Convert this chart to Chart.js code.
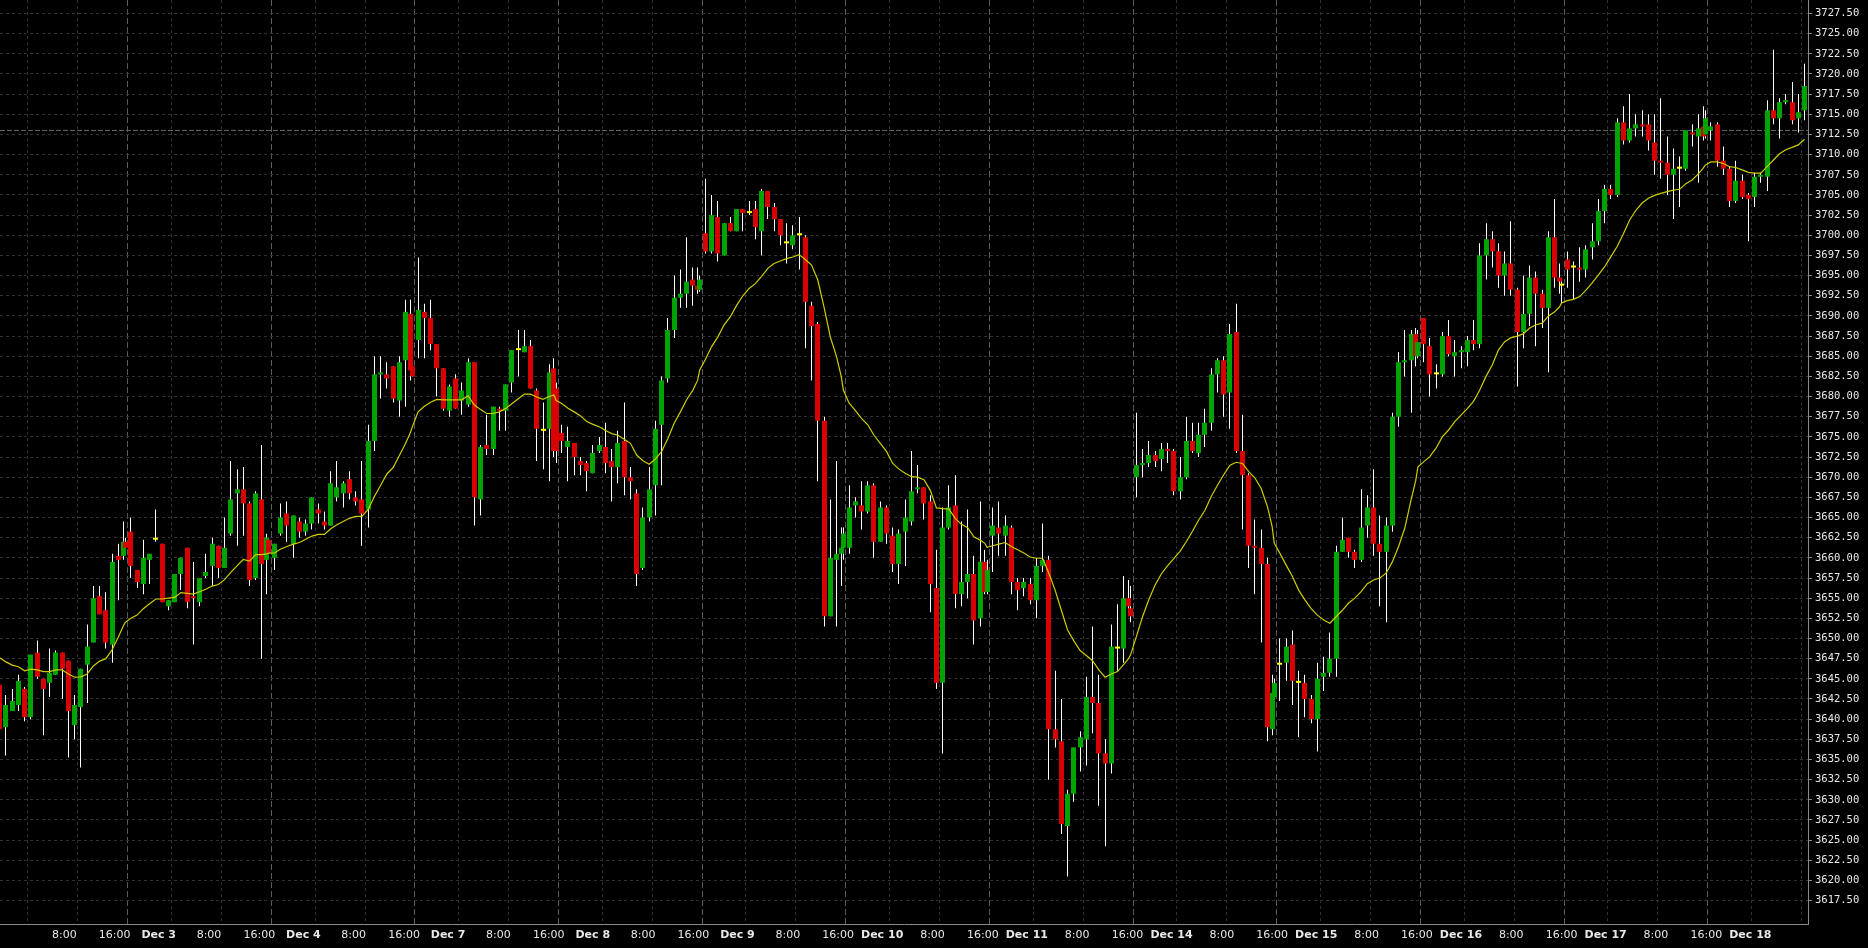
<!DOCTYPE html>
<html><head><meta charset="utf-8">
<script src="https://cdn.jsdelivr.net/npm/chart.js@4.4.1/dist/chart.umd.min.js"></script>
<style>html,body{margin:0;padding:0;background:#000;overflow:hidden}canvas{display:block}</style>
</head><body>
<canvas id="c" width="1868" height="948"></canvas>
<script>
// session-hour position of each bar (0 = midnight Dec 2, 23 hours per session)
const barTime = [
-4.5,-3.5,-2.5,-1.5,-0.5,0.5,1.5,2.5,3.5,4.5,5.5,6.5,7.5,8.5,9.5,10.5,11.5,12.5,13.5,14.5,15.25,15.6,
16.5,17.5,18.5,19.5,20.5,21.5,22.5,23.5,24.5,25.5,26.5,27.5,28.5,29.5,30.5,31.5,32.5,33.5,34.5,35.5,36.5,37.5,38.25,38.6,
39.5,40.5,41.5,42.5,43.5,44.5,45.5,46.5,47.5,48.5,49.5,50.5,51.5,52.5,53.5,54.5,55.5,56.5,57.5,58.5,59.5,60.5,61.25,61.6,
62.5,63.5,64.5,65.5,66.5,67.5,68.5,69.5,70.5,71.5,72.5,73.5,74.5,75.5,76.5,77.5,78.5,79.5,80.5,81.5,82.5,83.5,84.25,84.6,
85.5,86.5,87.5,88.5,89.5,90.5,91.5,92.5,93.5,94.5,95.5,96.5,97.5,98.5,99.5,100.5,101.5,102.5,103.5,104.5,105.5,106.5,107.25,107.6,
108.5,109.5,110.5,111.5,112.5,113.5,114.5,115.5,116.5,117.5,118.5,119.5,120.5,121.5,122.5,123.5,124.5,125.5,126.5,127.5,128.5,129.5,130.25,130.6,
131.5,132.5,133.5,134.5,135.5,136.5,137.5,138.5,139.5,140.5,141.5,142.5,143.5,144.5,145.5,146.5,147.5,148.5,149.5,150.5,151.5,152.5,153.25,153.6,
154.5,155.5,156.5,157.5,158.5,159.5,160.5,161.5,162.5,163.5,164.5,165.5,166.5,167.5,168.5,169.5,170.5,171.5,172.5,173.5,174.5,175.5,176.25,176.6,
177.5,178.5,179.5,180.5,181.5,182.5,183.5,184.5,185.5,186.5,187.5,188.5,189.5,190.5,191.5,192.5,193.5,194.5,195.5,196.5,197.5,198.5,199.25,199.6,
200.5,201.5,202.5,203.5,204.5,205.5,206.5,207.5,208.5,209.5,210.5,211.5,212.5,213.5,214.5,215.5,216.5,217.5,218.5,219.5,220.5,221.5,222.25,222.6,
223.5,224.5,225.5,226.5,227.5,228.5,229.5,230.5,231.5,232.5,233.5,234.5,235.5,236.5,237.5,238.5,239.5,240.5,241.5,242.5,243.5,244.5,245.25,245.6,
246.5,247.5,248.5,249.5,250.5,251.5,252.5,253.5,254.5,255.5,256.5,257.5,258.5,259.5,260.5,261.5,262.5,263.5,264.5,265.5,266.5,267.5,268.25,268.6,
269.5,270.5,271.5,272.5,273.5,274.5,275.5,276.5,277.5,278.5,279.5,280.5,281.5,282.5,283.5,284.5
];
const openPrice = [
3644.25,3639,3641,3641.75,3643.75,3640.25,3648.25,3645,3644.5,3645.5,3648.25,3647.25,3639.25,3641.5,3646.75,3649.5,3655.25,3653.5,3649.25,3660.25,3660.25,3662,
3663.25,3658.5,3656.75,3659.75,3662.25,3661.75,3654,3654.5,3658,3661.25,3655.25,3654.5,3657.75,3659,3661.5,3658.75,3663,3668,3668.5,3666.75,3657.5,3667.25,3659.75,3662.25,
3660,3663,3665.5,3661.75,3664.5,3663.25,3664.25,3666,3664.5,3664,3667.5,3668,3669.75,3667.5,3667.25,3666,3674.5,3682.75,3682.75,3683.75,3679.5,3684.5,3690.25,3683.75,
3687,3690.5,3689.75,3686.5,3683.5,3678.25,3682.25,3679.5,3679,3684.25,3667.25,3674,3673.5,3678.5,3678.25,3681.75,3685.75,3685.5,3686.25,3680.75,3675.75,3676,3683.5,3681,
3675.5,3673.75,3674.25,3672,3671.75,3670.5,3673.25,3673.75,3672,3671.25,3674.5,3670,3668,3658.75,3665,3669,3676.5,3682.25,3688.25,3692.25,3692.75,3694.5,3693.75,3693.25,
3700.25,3698,3702.25,3697.5,3701.5,3700.5,3703.25,3702.75,3703.25,3700.5,3705.5,3703.5,3702,3699,3698.75,3700,3699.75,3691.25,3689,3677,3652.75,3659.75,3660.5,3661.25,
3661.25,3666.5,3666.5,3665.75,3669,3662,3666.25,3662.75,3659.25,3663.25,3664.5,3668.5,3668.75,3667,3656.25,3644.5,3663.75,3666.5,3655.5,3657,3658,3652.5,3659.5,3655.75,
3662.75,3663.75,3662.75,3663.75,3657,3656.25,3656.75,3654.75,3659,3659.75,3638.75,3637.25,3626.75,3630.75,3636.5,3637.5,3642.75,3642,3635.75,3634.5,3648.75,3648.75,3655,3653.75,
3670,3671.5,3671.75,3672.75,3672.25,3673.5,3673.25,3668.25,3670,3674.5,3673,3675.25,3676.75,3682.75,3684.5,3680.5,3688,3673.25,3670.25,3661.5,3661.25,3659.25,3638.75,3642.75,
3646.75,3647,3649.25,3644.5,3644.5,3642.5,3640,3645.25,3645.75,3647.5,3660.75,3662.5,3660.75,3659.75,3664,3666.25,3661.75,3660.75,3664,3677.5,3684.25,3684.5,3687.75,3685,
3689.75,3686.25,3682.75,3682.75,3687.5,3685,3685.5,3685.5,3687,3686.5,3697.5,3699.5,3698,3695,3696.5,3693.25,3688,3690.25,3694.75,3692.75,3691,3699.75,3694.75,3693.75,
3697,3696,3696,3695.75,3698.5,3699.25,3703,3705.75,3705,3714,3711.75,3713.25,3713.75,3713.75,3711.5,3709.25,3709,3707.5,3708.25,3708.25,3712.75,3712.25,3713.5,3712.5,
3713,3713.75,3709.25,3708.25,3704.25,3706.75,3705,3704.75,3707.25,3707.25,3715.5,3714.5,3716.5,3716.5,3714.5,3715.5
];
const highPrice = [
3645,3643,3643.75,3645.5,3644,3648,3649.75,3645,3648.75,3648.5,3648.25,3647.25,3643,3646.25,3651.75,3656.5,3656.5,3655.75,3660.5,3661.75,3664.5,3662.5,
3665,3658.5,3662.25,3660.5,3666,3661.75,3654.75,3658,3660,3661.25,3659.5,3657.5,3660.5,3662.5,3661.5,3665,3672,3671,3671.25,3667,3668.25,3674,3663,3662.5,
3661.75,3666.75,3667,3665.25,3665,3664.75,3667.5,3666.75,3665.75,3670.75,3672,3669.5,3670.75,3668.25,3672,3676.5,3685,3685,3684.25,3683.75,3685,3692,3692,3684,
3697.25,3691.5,3692,3686.5,3683.5,3681.5,3682.75,3681.75,3684.75,3684.25,3674,3677.75,3678.75,3678.75,3681.5,3685.75,3688.25,3688.25,3687,3681,3679.25,3684,3684.75,3681.75,
3676.5,3676.25,3674.25,3672.5,3672,3674,3675,3676.75,3673.5,3675.75,3679.25,3671.25,3668.5,3666.25,3671.25,3677,3682.5,3689.75,3695,3695.75,3699.75,3696,3696,3695,
3707,3705,3704.25,3701.5,3702.25,3703.25,3703.25,3704.25,3704.25,3705.75,3705.5,3704,3702,3701.5,3701.25,3702.25,3700,3691.75,3689.25,3677.5,3667.25,3672,3663.75,3663.75,
3669,3667.5,3669.5,3669.5,3669.25,3667,3666.5,3663.75,3663.5,3667.25,3673.25,3671.5,3668.75,3667.75,3661,3666.25,3669,3670.25,3664.5,3666,3660.25,3667,3661,3659.75,
3666.25,3667,3665.25,3664,3657.5,3657.5,3657.5,3660,3664.25,3660.25,3646,3642.5,3631.25,3636.5,3638.5,3645.25,3651.5,3645.5,3637.5,3651.75,3654.25,3657.75,3657.25,3656.5,
3678,3673.5,3674.5,3673.25,3674.25,3674.25,3673.5,3672.5,3677.5,3676.75,3676.75,3678.5,3683.5,3684.75,3685,3689,3691.5,3677.75,3670.5,3664.75,3663.5,3660,3645.5,3645,
3650,3650,3651,3646,3645.5,3643,3647,3647.75,3650.75,3661.5,3665,3662.5,3661,3668.5,3667.75,3671,3665.25,3665,3678,3685.5,3688.25,3688.25,3688.5,3688.25,
3689.75,3687.25,3684,3688,3689.5,3687,3686.25,3687.5,3689.5,3699,3701.5,3700.5,3699,3698,3701.75,3693.5,3695,3696.25,3695.5,3693.25,3700.5,3704.5,3696.5,3694.5,
3698,3696.75,3698.5,3698.75,3701.5,3704.5,3706.25,3706.25,3714.5,3716,3717.5,3715,3715.5,3715,3715,3717,3712.25,3710.75,3709.75,3713,3713.75,3715,3716,3715.5,
3714,3714,3711,3708.5,3709.25,3707.5,3705.25,3707.75,3707.75,3716.75,3723,3717,3717.5,3719,3717.5,3721.25
];
const lowPrice = [
3636,3635.5,3641,3641,3639.75,3640,3645,3638,3642.75,3645.5,3642.5,3635.25,3637.5,3634,3642,3649.5,3653,3648.75,3647,3654.75,3659.75,3661,
3657.5,3656.25,3655.5,3656.75,3662,3654.5,3653.5,3654.5,3656,3653.75,3649.25,3654,3657.5,3656.5,3657.5,3658.75,3662.75,3661.5,3662.75,3656.5,3657.25,3647.5,3655.5,3660,
3658.5,3662.75,3662,3660,3662.5,3662.75,3663.5,3664.25,3663.5,3664,3667,3666.25,3667.25,3666.5,3661.5,3663.75,3673.25,3679.75,3681,3679.25,3677.5,3678.75,3682,3682.5,
3684.75,3684.75,3685.75,3680,3678.25,3677.5,3678.5,3677.75,3678.75,3664,3665.25,3672.75,3672.75,3675.75,3675.75,3680.5,3682.5,3685.5,3681,3672,3671,3669.5,3672.5,3671.75,
3673,3669.5,3670.25,3670.25,3668.25,3670.5,3673,3670.5,3667,3669.25,3667.75,3667.25,3656.5,3658.5,3664.5,3665.25,3669,3681.75,3687.25,3691,3691,3691.25,3692.75,3693,
3697.75,3697.75,3696.75,3697.5,3700.5,3700.5,3700.5,3702.5,3699.5,3697.5,3702,3700.5,3698.75,3696.5,3698.25,3695.75,3686,3682,3669.5,3651.5,3652.75,3651.5,3656.5,3659.75,
3660.5,3665,3663.5,3665.5,3660,3662,3661.75,3658.25,3656.75,3659,3664,3668,3664.75,3653.25,3643.75,3635.75,3663.5,3653.75,3654,3655,3649.25,3651.5,3655.5,3655.5,
3658.25,3660.25,3660.25,3655.5,3653.5,3655.25,3654.25,3652.5,3658.25,3632.5,3636.5,3625.75,3620.5,3629.75,3633.5,3634.25,3638.25,3629.25,3624.25,3633.25,3646,3647,3653.5,3652,
3667.5,3670,3671.25,3671.25,3670.75,3671.75,3667.75,3667.25,3669.75,3673,3672.5,3673.75,3675.75,3680.5,3677.5,3676,3673,3663.5,3658.75,3655.5,3649.5,3637.25,3638,3641.5,
3642.25,3644.75,3641.75,3637.75,3640.25,3639.5,3636,3643.5,3645.25,3645.25,3660.75,3660,3658.75,3659.5,3662.5,3660.25,3654,3652,3663.25,3676.25,3682.5,3678,3683.75,3684.75,
3684.25,3680,3681,3682.5,3685,3682.5,3683.5,3683.75,3685.75,3686,3694.5,3696,3693.5,3692.5,3692.5,3681.25,3686,3688.75,3686.25,3688.5,3683,3693.5,3692.75,3691.5,
3693.5,3692,3694.25,3694.75,3697,3698.75,3701.5,3704.5,3704.75,3711.25,3711.5,3712.25,3712.25,3710.5,3707.5,3707,3705,3702,3703.5,3708,3711,3706.5,3711.75,3712,
3711.75,3708.5,3707.5,3703.5,3704,3704.5,3699.25,3703.5,3706.5,3705.5,3713.75,3712,3716.25,3713.75,3712.75,3714.25
];
const closePrice = [
3638.75,3641.75,3642.25,3644.75,3640.25,3648,3645.25,3643.75,3645.75,3648.25,3646.25,3641,3641.75,3646.25,3649,3655,3653,3649.5,3659.5,3659.75,3662,3661.25,
3659,3657,3660,3660.5,3662.25,3654.5,3654.75,3658,3660,3654.5,3655,3657.5,3658.25,3661.75,3658.75,3661.25,3667.25,3668.5,3666.75,3657.25,3668,3659.25,3662.5,3660.5,
3661.75,3665,3664,3665.25,3663.25,3664.25,3667.5,3665.5,3664,3669.25,3668.75,3669.25,3668,3667,3665.5,3674.5,3682.75,3683,3682.25,3679.75,3684.25,3690.5,3683.25,3682.5,
3690.75,3689.75,3686.5,3683.5,3678.5,3681.25,3678.5,3680.75,3684.25,3667.5,3673.75,3673.5,3678.75,3678.25,3681.5,3685.75,3685.75,3686.25,3681,3676,3675.75,3683,3673.25,3673.25,
3674.5,3674.5,3672.5,3671.5,3670.75,3673,3674,3671.75,3671.25,3674.25,3670,3669.5,3658,3665,3668.5,3676,3682,3688.25,3692.25,3692.75,3694.25,3693.75,3693.25,3694.5,
3698,3702.5,3697.75,3701.5,3700.5,3703.25,3702.75,3702.75,3701,3705.5,3703.5,3702,3700,3699,3700,3700,3691.75,3688.75,3677,3652.75,3660,3660.5,3661.25,3663,
3666.25,3667,3665.75,3669,3662,3666.25,3663,3659.25,3663,3665,3668.25,3668.75,3666.75,3656.75,3644.5,3663.75,3666.25,3655.5,3657,3658,3652.25,3659.5,3655.75,3658.5,
3664,3663,3664,3657,3656,3657,3654.75,3659,3659.75,3638.75,3637.5,3627,3630.75,3636.5,3637.75,3642.75,3642,3635.75,3634.5,3649,3648.75,3655,3654,3652.75,
3671.5,3671.75,3672.75,3672,3673.5,3673.25,3668.25,3670,3674.5,3673.25,3675.25,3676.75,3682.75,3684.5,3680.25,3687.75,3673.25,3670.25,3661.5,3661.25,3659.25,3639,3643.25,3644.5,
3646.75,3649,3644.75,3644.5,3642.5,3640,3645,3645.75,3647.5,3660.75,3662.25,3660.75,3659.75,3663.75,3666.25,3661.75,3660.75,3664,3677.5,3684.25,3684.5,3687.75,3685,3686.75,
3686.5,3682.75,3682.75,3687.5,3685.25,3685.5,3685.75,3687,3686.5,3697.5,3699.5,3698,3695,3696.5,3693.25,3688,3690.25,3694.75,3692.75,3691,3699.75,3694.75,3694.25,3693.75,
3695.75,3696,3695.75,3698.25,3699.25,3703,3705.75,3705,3714,3711.75,3713.25,3713.75,3713.5,3711.75,3709.25,3709,3707.5,3708.25,3708.25,3713,3712.5,3713.25,3712.25,3714.5,
3713.5,3709.25,3708.25,3704.25,3706.75,3704.75,3704.5,3707.25,3707.5,3715.5,3714.5,3716.5,3716.75,3714.25,3715.25,3718.5
];
const maPrice = [
3647.6,3647.1,3646.7,3646.5,3646.0,3646.2,3646.1,3645.9,3645.9,3646.1,3646.1,3645.6,3645.2,3645.25,3645.6,3646.6,3647.2,3647.5,3648.6,3650.2,3651.5,3652.0,
3652.5,3652.9,3653.7,3654.3,3654.9,3654.9,3655.0,3655.1,3655.7,3655.6,3655.5,3655.8,3656.1,3656.5,3656.7,3657.3,3658.2,3659.0,3659.8,3659.6,3660.4,3660.4,3660.5,3660.6,
3660.6,3661.1,3661.4,3661.7,3661.9,3662.3,3662.7,3662.9,3662.9,3663.6,3664.1,3664.5,3664.9,3665.15,3665.15,3666.0,3667.6,3669.0,3670.4,3671.2,3672.7,3674.2,3675.5,3676.3,
3678.1,3678.8,3679.3,3679.65,3679.6,3679.6,3679.6,3679.6,3680.1,3678.95,3678.4,3677.9,3677.9,3678.1,3678.5,3679.1,3679.7,3680.3,3680.3,3679.95,3679.65,3680.0,3680.2,3679.5,
3679.15,3678.55,3678.1,3677.6,3676.9,3676.55,3676.25,3675.8,3675.4,3675.2,3674.7,3674.2,3672.75,3672.05,3671.6,3672.25,3673.2,3674.8,3676.7,3678.1,3679.6,3680.8,3682.0,3683.3,
3684.6,3686.2,3687.4,3688.9,3689.9,3691.3,3692.5,3693.4,3694.0,3694.9,3695.9,3696.5,3696.8,3697.1,3697.3,3697.6,3697.0,3696.3,3694.45,3691.1,3687.4,3684.95,3682.5,3680.8,
3679.2,3678.3,3677.3,3676.5,3675.2,3674.2,3673.2,3671.7,3671.0,3670.5,3670.06,3670.0,3669.7,3668.4,3666.2,3666.1,3666.05,3664.9,3664.15,3663.75,3662.6,3662.2,3661.8,3661.3,
3661.5,3661.7,3661.9,3661.4,3661.0,3660.6,3660.1,3659.95,3659.95,3658.1,3656.0,3653.5,3651.05,3649.7,3648.5,3647.9,3647.25,3646.1,3645.2,3645.6,3645.9,3646.8,3647.5,3648.0,
3650.2,3652.7,3654.8,3656.6,3658.0,3659.0,3659.9,3660.8,3662.0,3663.3,3664.7,3665.9,3667.6,3669.0,3670.3,3671.5,3671.85,3671.7,3670.7,3669.9,3668.6,3666.35,3663.9,3661.8,
3660.55,3659.1,3657.7,3656.0,3654.8,3653.7,3652.9,3652.3,3651.9,3652.7,3653.5,3654.4,3655.0,3655.8,3656.8,3657.25,3657.5,3658.1,3659.5,3661.4,3663.7,3667.2,3669.6,3671.3,
3671.9,3672.55,3673.6,3675.0,3675.85,3676.9,3677.7,3678.5,3679.4,3680.8,3682.5,3683.9,3685.8,3686.8,3687.3,3687.5,3687.8,3688.5,3688.9,3689.1,3690.0,3690.5,3691.1,3691.6,
3691.9,3692.05,3692.4,3693.2,3694.1,3695.1,3696.1,3697.35,3698.6,3700.2,3701.9,3703.1,3704.0,3704.6,3704.95,3705.2,3705.4,3705.6,3705.7,3706.4,3706.85,3707.6,3708.3,3708.7,
3709.1,3709.1,3708.9,3708.5,3708.4,3708.1,3707.8,3707.7,3707.7,3708.5,3709.3,3710.1,3710.6,3710.9,3711.2,3711.9
];
const priceTicks = [3617.5,3620,3622.5,3625,3627.5,3630,3632.5,3635,3637.5,3640,3642.5,3645,3647.5,3650,3652.5,3655,3657.5,3660,3662.5,3665,3667.5,3670,3672.5,3675,3677.5,3680,3682.5,3685,3687.5,3690,3692.5,3695,3697.5,3700,3702.5,3705,3707.5,3710,3712.5,3715,3717.5,3720,3722.5,3725,3727.5];
const timeTicks = [0,8,16,23,31,39,46,54,62,69,77,85,92,100,108,115,123,131,138,146,154,161,169,177,184,192,200,207,215,223,230,238,246,253,261,269,276,284];
const timeTickLabels = ['','8:00','16:00','Dec 3','8:00','16:00','Dec 4','8:00','16:00','Dec 7','8:00','16:00','Dec 8','8:00','16:00','Dec 9','8:00','16:00','Dec 10','8:00','16:00','Dec 11','8:00','16:00','Dec 14','8:00','16:00','Dec 15','8:00','16:00','Dec 16','8:00','16:00','Dec 17','8:00','16:00','Dec 18',''];
const sessionBreaks = [16,39,62,85,108,131,154,177,200,223,246,269];
const refLevel = 3713;

// axis ranges: data/grid axis and the (slightly differently scaled) label axis
const X_MIN = -4.452, X_MAX = 285.06, XL_MIN = -2.225, XL_MAX = 285.17;
const Y_MIN = 3614.60, Y_MAX = 3729.17;
const UP = '#00a400', DOWN = '#d80000', DOJI = '#ffff00';

const wickData = barTime.map((t, i) => ({x: t, y: [lowPrice[i], highPrice[i]]}));
const bodyData = barTime.map((t, i) => ({x: t, y: [openPrice[i], closePrice[i]]}));
const bodyColors = barTime.map((t, i) => closePrice[i] > openPrice[i] ? UP : (closePrice[i] < openPrice[i] ? DOWN : DOJI));
const maData = barTime.map((t, i) => ({x: t, y: maPrice[i]}));

const noPad = s => { s.paddingTop = 0; s.paddingBottom = 0; s.paddingLeft = 0; s.paddingRight = 0; };

// keep candle wicks/bodies on whole device pixels so they stay crisp
const pixelSnap = {
  id: 'pixelSnap',
  afterDatasetsUpdate(chart) {
    chart.data.datasets.forEach((ds, i) => {
      const meta = chart.getDatasetMeta(i);
      if (meta.type !== 'bar') return;
      meta.data.forEach(el => { el.x = Math.floor(el.x) + 0.5; });
    });
  }
};

new Chart(document.getElementById('c'), {
  type: 'bar',
  plugins: [pixelSnap],
  data: {
    datasets: [
      {type: 'line', label: 'MA', data: maData, borderColor: 'rgb(206,206,0)', borderWidth: 1.2,
       pointRadius: 0, fill: false, tension: 0},
      {label: 'body', data: bodyData, backgroundColor: bodyColors, barThickness: 5, minBarLength: 2,
       stack: 'k', borderWidth: 0, inflateAmount: 0},
      {label: 'wick', data: wickData, backgroundColor: '#ffffff', barThickness: 1,
       stack: 'k', borderWidth: 0, inflateAmount: 0},
      {type: 'line', label: 'ref', data: [{x: X_MIN, y: refLevel}, {x: X_MAX, y: refLevel}],
       borderColor: '#6a6a6a', borderWidth: 1, borderDash: [5, 2], pointRadius: 0, fill: false}
    ]
  },
  options: {
    responsive: false, animation: false, devicePixelRatio: 1, events: [],
    layout: {padding: 0},
    plugins: {legend: {display: false}, tooltip: {enabled: false}, title: {display: false}},
    scales: {
      x: {
        type: 'linear', position: 'bottom', weight: 0, min: X_MIN, max: X_MAX, offset: false,
        afterBuildTicks: s => { s.ticks = timeTicks.map(v => ({value: v})); },
        afterFit: s => { s.height = 0; noPad(s); },
        grid: {offset: false, drawTicks: false, lineWidth: 1,
               color: ctx => (ctx.tick && sessionBreaks.includes(ctx.tick.value)) ? 'rgba(0,0,0,0)' : '#303030'},
        border: {display: true, color: '#8a8a8a', width: 1, dash: [3, 3]},
        ticks: {display: false}
      },
      xs: {
        type: 'linear', position: 'bottom', weight: 0, min: X_MIN, max: X_MAX, offset: false,
        afterBuildTicks: s => { s.ticks = sessionBreaks.map(v => ({value: v})); },
        afterFit: s => { s.height = 0; noPad(s); },
        grid: {offset: false, drawTicks: false, color: '#5a5a5a', lineWidth: 1},
        border: {display: false, dash: [6, 3]},
        ticks: {display: false}
      },
      xl: {
        type: 'linear', position: 'bottom', weight: 2, min: XL_MIN, max: XL_MAX, offset: false,
        afterBuildTicks: s => { s.ticks = timeTicks.map(v => ({value: v})); },
        afterFit: s => { s.height = 24; noPad(s); },
        grid: {display: false, drawTicks: false},
        border: {display: false},
        ticks: {
          autoSkip: false, maxRotation: 0, minRotation: 0, align: 'center', padding: 5, color: '#e8e8e8',
          callback: (v, i) => timeTickLabels[i],
          font: ctx => ({family: 'DejaVu Sans', size: 11,
                         weight: String(timeTickLabels[ctx.index] || '').startsWith('Dec') ? 'bold' : 'normal'})
        }
      },
      y: {
        type: 'linear', position: 'right', min: Y_MIN, max: Y_MAX, stacked: false,
        afterBuildTicks: s => { s.ticks = priceTicks.map(v => ({value: v})); },
        afterFit: s => { s.width = 60; noPad(s); },
        grid: {color: '#303030', lineWidth: 1, drawTicks: true, tickLength: 4, tickColor: '#8a8a8a', tickWidth: 1},
        border: {display: true, color: '#8a8a8a', width: 1, dash: [3, 3]},
        ticks: {padding: 3, color: '#e8e8e8', font: {family: 'DejaVu Sans Mono', size: 10.5},
                callback: v => Number(v).toFixed(2)}
      }
    }
  }
});
</script>
</body></html>
